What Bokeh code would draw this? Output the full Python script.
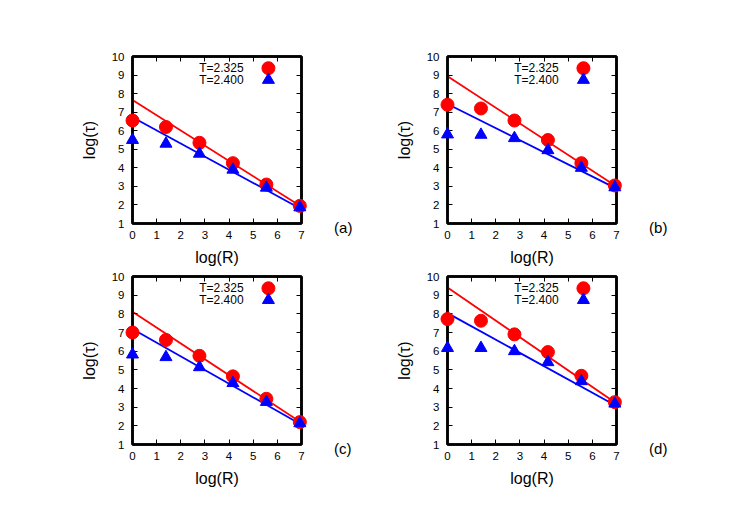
from bokeh.plotting import figure
from bokeh.layouts import column, row
from bokeh.models import Range1d, LinearAxis, FixedTicker
from bokeh.core.properties import value
from bokeh.embed import file_html
from bokeh.resources import INLINE

# ---- data (natural logs) ----
log_R = [0.0, 1.386, 2.773, 4.159, 5.545, 6.931]
fit_x = [0.0, 7.0]

red_a = [6.55, 6.2, 5.35, 4.25, 3.1, 1.95]
blue_a = [5.5, 5.3, 4.76, 3.9, 2.93, 1.87]
fit_red_a = [7.66, 1.9]
fit_blue_a = [6.73, 1.77]

red_b = [7.4, 7.2, 6.55, 5.5, 4.25, 3.05]
blue_b = [5.8, 5.78, 5.6, 4.95, 4.0, 2.95]
fit_red_b = [8.93, 3.0]
fit_blue_b = [7.44, 2.88]

red_c = [7.0, 6.6, 5.75, 4.65, 3.45, 2.2]
blue_c = [5.82, 5.68, 5.14, 4.29, 3.28, 2.14]
fit_red_c = [8.11, 2.17]
fit_blue_c = [7.19, 2.06]

red_d = [7.72, 7.63, 6.9, 5.95, 4.68, 3.27]
blue_d = [6.17, 6.17, 6.0, 5.41, 4.39, 3.19]
fit_red_d = [9.41, 3.19]
fit_blue_d = [8.04, 3.06]

series_labels = ["T=2.325", "T=2.400"]
panel_labels = ["(a)", "(b)", "(c)", "(d)"]
x_ticks = [0, 1, 2, 3, 4, 5, 6, 7]
y_ticks = [1, 2, 3, 4, 5, 6, 7, 8, 9, 10]

RED = "#ff0000"
BLUE = "#0000ff"
FONT = "Liberation Sans"


def make_panel(red, blue, fit_red, fit_blue, tag, width, height, bl, br, bt, bb):
    p = figure(width=width, height=height, output_backend="svg",
               toolbar_location=None, x_range=Range1d(0, 7), y_range=Range1d(1, 10),
               min_border_left=bl, min_border_right=br,
               min_border_top=bt, min_border_bottom=bb,
               background_fill_color="white", border_fill_color="white")
    p.grid.visible = False
    p.outline_line_color = "black"
    p.outline_line_width = 2.5

    p.xaxis[0].ticker = FixedTicker(ticks=x_ticks)
    p.yaxis[0].ticker = FixedTicker(ticks=y_ticks)
    for ax in (p.xaxis[0], p.yaxis[0]):
        ax.major_tick_in = 5
        ax.major_tick_out = 0
        ax.minor_tick_line_color = None
        ax.axis_line_width = 2.5
        ax.major_tick_line_width = 1
        ax.major_label_text_font = FONT
        ax.major_label_text_font_size = "11.5px"
        ax.major_label_text_color = "black"
        ax.axis_label_text_font = FONT
        ax.axis_label_text_font_size = "16px"
        ax.axis_label_text_font_style = "normal"
        ax.axis_label_text_color = "black"
    p.xaxis[0].axis_label = "log(R)"
    p.yaxis[0].axis_label = "log(\u03c4)"
    p.xaxis[0].major_label_standoff = 7
    p.xaxis[0].axis_label_standoff = 7
    p.yaxis[0].major_label_standoff = 8
    p.yaxis[0].axis_label_standoff = 11

    # mirrored ticks (no labels)
    top = LinearAxis(ticker=FixedTicker(ticks=x_ticks), major_label_text_font_size="1px",
                     major_label_text_color=None,
                     major_tick_in=5, major_tick_out=0, minor_tick_line_color=None,
                     axis_line_width=2.5, major_label_standoff=0)
    right = LinearAxis(ticker=FixedTicker(ticks=y_ticks), major_label_text_font_size="1px",
                       major_label_text_color=None,
                       major_tick_in=5, major_tick_out=0, minor_tick_line_color=None,
                       axis_line_width=2.5, major_label_standoff=0)
    p.add_layout(top, "above")
    p.add_layout(right, "right")

    p.line(fit_x, fit_red, line_color=RED, line_width=1.8)
    p.line(fit_x, fit_blue, line_color=BLUE, line_width=1.8)
    p.scatter(log_R, red, marker="circle", size=13, fill_color=RED, line_color=RED,
              level="overlay")
    p.scatter(log_R, blue, marker="triangle", size=12, fill_color=BLUE, line_color=BLUE,
              level="overlay")

    # key (gnuplot style: text then symbol)
    p.text(x=[4.6, 4.6], y=[9.37, 8.74], text=series_labels, text_align="right",
           text_baseline="middle", text_font_size="12px", text_color="black",
           text_font=value(FONT))
    p.scatter([5.63], [9.37], marker="circle", size=13, fill_color=RED, line_color=RED)
    p.scatter([5.63], [8.74], marker="triangle", size=12, fill_color=BLUE, line_color=BLUE)

    # panel tag, outside the frame (overlay level is not clipped)
    p.text(x=[8.35], y=[0.8], text=[tag], text_align="left", text_baseline="middle",
           text_font=value(FONT), text_font_size="15px", text_color="black",
           level="overlay")
    return p


W1, W2 = 373, 356
H1, H2 = 270, 243
pa = make_panel(red_a, blue_a, fit_red_a, fit_blue_a, panel_labels[0], W1, H1, 132, 72, 56, 47)
pb = make_panel(red_b, blue_b, fit_red_b, fit_blue_b, panel_labels[1], W2, H1, 74, 113, 56, 47)
pc = make_panel(red_c, blue_c, fit_red_c, fit_blue_c, panel_labels[2], W1, H2, 132, 72, 6, 69)
pd = make_panel(red_d, blue_d, fit_red_d, fit_blue_d, panel_labels[3], W2, H2, 74, 113, 6, 69)

layout = column(row(pa, pb), row(pc, pd))
open("out.html", "w").write(file_html(layout, INLINE))
